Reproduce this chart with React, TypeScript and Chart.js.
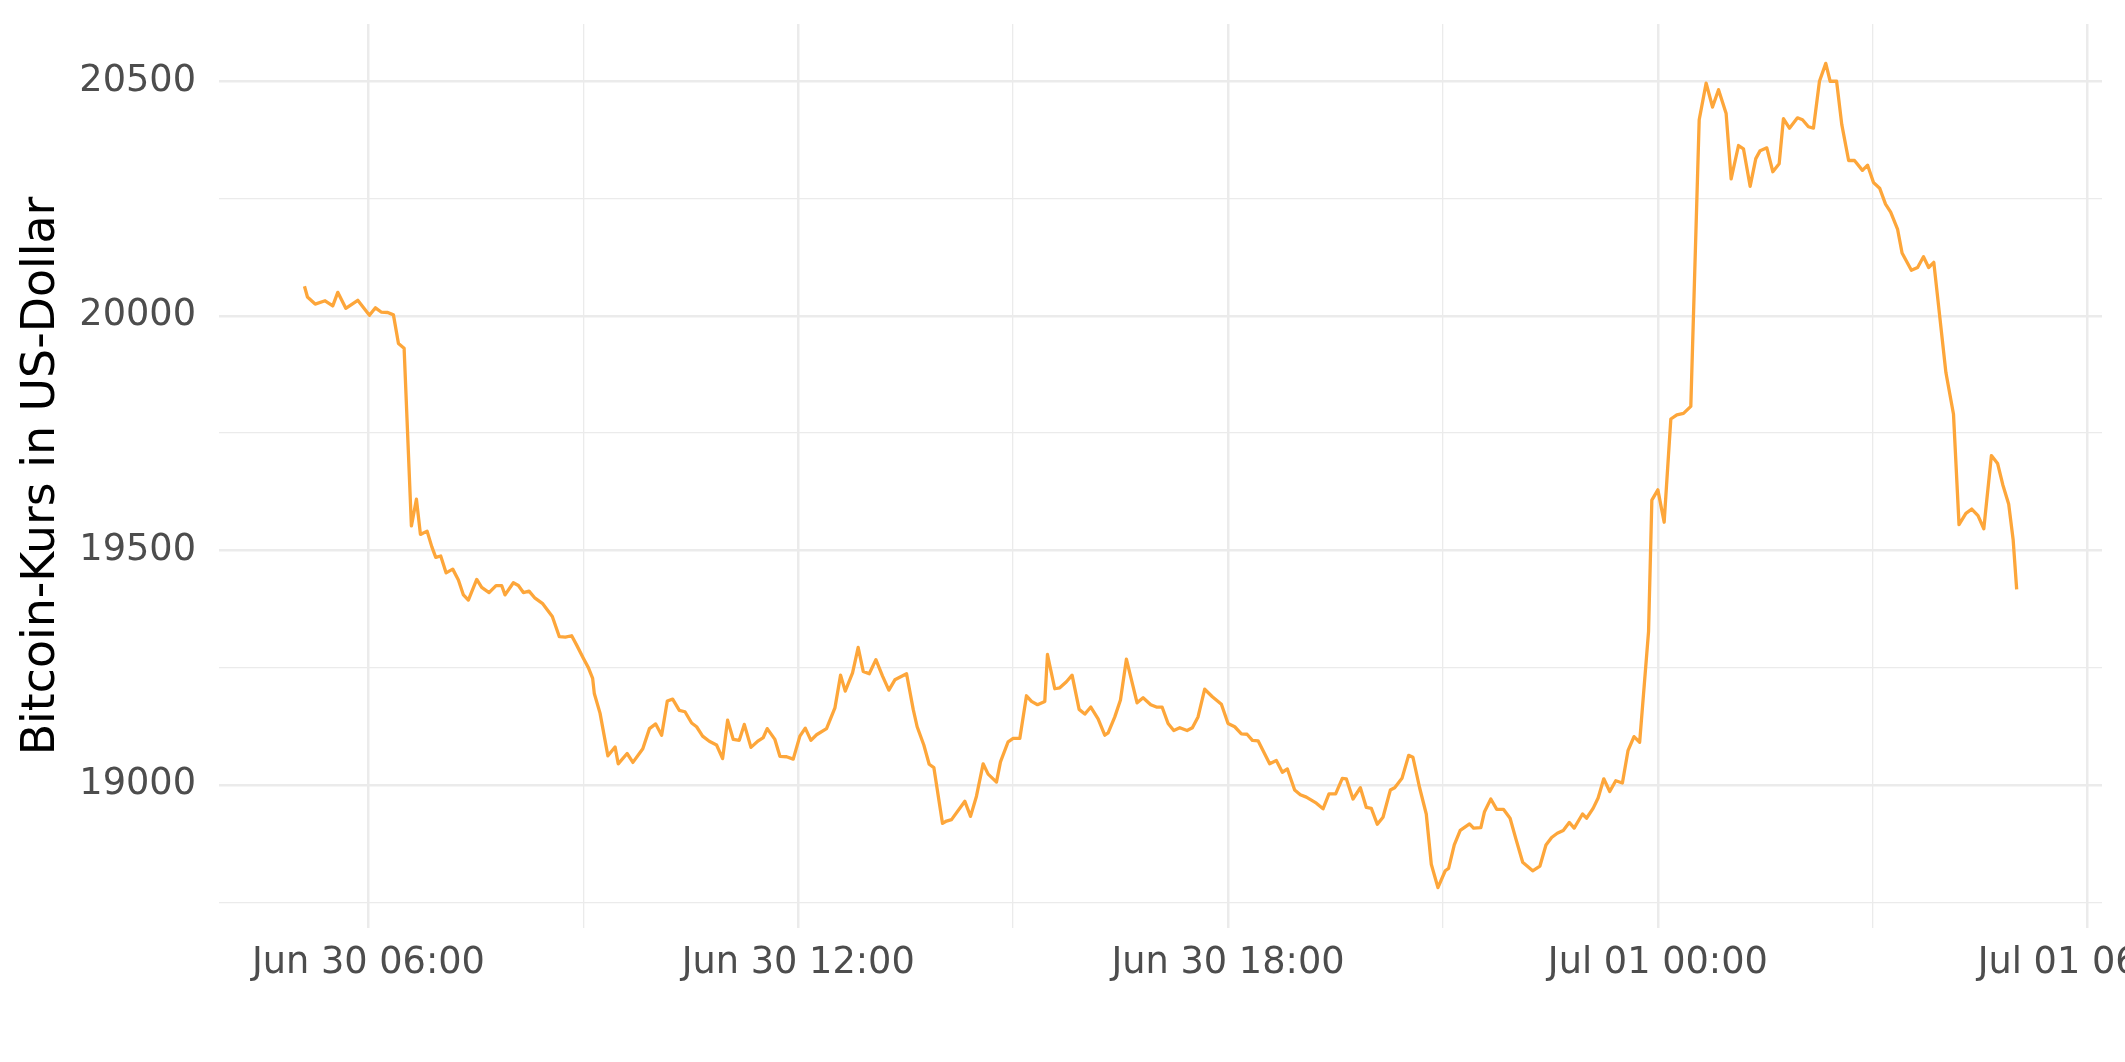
import { useEffect, useRef } from 'react';
import { Chart, registerables } from 'chart.js';

Chart.register(...registerables);

// Hours since Jun 30 00:00
const hours = [
  5.107, 5.149, 5.256, 5.395, 5.502, 5.572, 5.684, 5.851, 6.014, 6.098, 6.177, 6.27, 6.349, 6.419, 6.498,
  6.6, 6.67, 6.726, 6.819, 6.884, 6.94, 7.009, 7.084, 7.177, 7.256, 7.326, 7.395, 7.512, 7.581, 7.684,
  7.781, 7.86, 7.907, 8.023, 8.093, 8.163, 8.242, 8.326, 8.428, 8.488, 8.567, 8.665, 8.749, 8.837, 8.907,
  9.0, 9.07, 9.13, 9.153, 9.233, 9.343, 9.443, 9.487, 9.611, 9.692, 9.83, 9.923, 10.01, 10.093, 10.172,
  10.247, 10.34, 10.419, 10.512, 10.581, 10.665, 10.758, 10.86, 10.944, 11.014, 11.093, 11.177, 11.247, 11.34, 11.442,
  11.512, 11.567, 11.674, 11.744, 11.837, 11.93, 12.023, 12.098, 12.177, 12.256, 12.395, 12.512, 12.591, 12.656, 12.758,
  12.837, 12.907, 12.991, 13.084, 13.177, 13.265, 13.349, 13.512, 13.605, 13.66, 13.753, 13.828, 13.893, 14.014, 14.07,
  14.14, 14.326, 14.405, 14.488, 14.581, 14.651, 14.767, 14.823, 14.93, 15.0, 15.093, 15.186, 15.256, 15.34, 15.442,
  15.479, 15.581, 15.651, 15.744, 15.823, 15.921, 16.0, 16.084, 16.186, 16.279, 16.326, 16.419, 16.498, 16.581, 16.73,
  16.814, 16.921, 17.0, 17.079, 17.163, 17.242, 17.326, 17.428, 17.502, 17.581, 17.674, 17.781, 17.907, 18.0, 18.093,
  18.186, 18.265, 18.34, 18.419, 18.581, 18.674, 18.758, 18.828, 18.93, 19.009, 19.093, 19.233, 19.326, 19.409, 19.502,
  19.595, 19.651, 19.744, 19.847, 19.93, 20.0, 20.084, 20.163, 20.265, 20.326, 20.428, 20.521, 20.581, 20.674, 20.767,
  20.837, 20.93, 21.032, 21.079, 21.158, 21.241, 21.371, 21.427, 21.529, 21.58, 21.668, 21.751, 21.844, 21.937, 22.02,
  22.113, 22.252, 22.354, 22.438, 22.517, 22.596, 22.679, 22.763, 22.832, 22.948, 23.004, 23.096, 23.166, 23.245, 23.328,
  23.412, 23.505, 23.583, 23.667, 23.746, 23.87, 23.916, 24.0, 24.088, 24.181, 24.265, 24.358, 24.46, 24.577, 24.674,
  24.763, 24.847, 24.953, 25.023, 25.126, 25.195, 25.288, 25.367, 25.428, 25.521, 25.605, 25.693, 25.753, 25.837, 25.949,
  26.019, 26.102, 26.172, 26.256, 26.344, 26.405, 26.495, 26.567, 26.663, 26.745, 26.856, 26.928, 27.01, 27.096, 27.178,
  27.25, 27.347, 27.409, 27.539, 27.626, 27.708, 27.78, 27.852, 28.021, 28.127, 28.204, 28.3, 28.382, 28.469, 28.55,
  28.656, 28.743, 28.815, 28.897, 28.96, 29.009,
];

// Bitcoin price in US-Dollar
const prices = [
  20063, 20040, 20025, 20032, 20021, 20050, 20016, 20033, 20001, 20017, 20008, 20007, 20002, 19941, 19931,
  19552, 19609, 19534, 19541, 19508, 19485, 19488, 19452, 19460, 19437, 19405, 19394, 19438, 19421, 19410,
  19425, 19425, 19405, 19431, 19425, 19410, 19413, 19398, 19387, 19375, 19359, 19316, 19315, 19318, 19298,
  19270, 19250, 19227, 19195, 19153, 19062, 19081, 19045, 19067, 19048, 19077, 19120, 19130, 19106, 19179,
  19183, 19159, 19156, 19132, 19124, 19104, 19093, 19085, 19056, 19138, 19097, 19095, 19129, 19080, 19094,
  19101, 19120, 19097, 19061, 19060, 19055, 19104, 19121, 19095, 19107, 19120, 19164, 19234, 19200, 19239,
  19293, 19242, 19237, 19267, 19232, 19202, 19224, 19237, 19161, 19124, 19085, 19044, 19037, 18918, 18923,
  18926, 18965, 18933, 18976, 19045, 19023, 19006, 19049, 19092, 19099, 19099, 19190, 19178, 19171, 19178,
  19278, 19205, 19207, 19220, 19234, 19161, 19151, 19166, 19141, 19106, 19111, 19145, 19181, 19268, 19175,
  19186, 19171, 19166, 19166, 19131, 19116, 19122, 19116, 19122, 19145, 19204, 19188, 19172, 19131, 19124,
  19109, 19108, 19095, 19094, 19045, 19052, 19027, 19034, 18989, 18979, 18974, 18961, 18949, 18981, 18981,
  19014, 19013, 18970, 18994, 18952, 18950, 18916, 18931, 18989, 18994, 19014, 19063, 19059, 18994, 18938,
  18831, 18781, 18817, 18822, 18872, 18903, 18917, 18908, 18909, 18943, 18970, 18948, 18948, 18929, 18884,
  18835, 18817, 18827, 18872, 18888, 18897, 18903, 18920, 18908, 18938, 18929, 18950, 18972, 19013, 18986,
  19009, 19004, 19073, 19103, 19091, 19327, 19607, 19629, 19560, 19780, 19789, 19792, 19807, 20418, 20496,
  20445, 20482, 20431, 20292, 20363, 20356, 20276, 20335, 20352, 20358, 20307, 20324, 20420, 20400, 20422,
  20418, 20403, 20400, 20500, 20538, 20500, 20500, 20408, 20331, 20331, 20310, 20321, 20284, 20272, 20238,
  20221, 20184, 20134, 20097, 20103, 20126, 20103, 20114, 19879, 19790, 19555, 19579, 19588, 19574, 19546,
  19702, 19685, 19640, 19599, 19522, 19417,
];

const xMajorTicks = [6, 12, 18, 24, 30];
const xTickLabels = ['Jun 30 06:00', 'Jun 30 12:00', 'Jun 30 18:00', 'Jul 01 00:00', 'Jul 01 06:00'];
const xMinorTicks = [9, 15, 21, 27];
const yMajorTicks = [19000, 19500, 20000, 20500];
const yMinorTicks = [18750, 19250, 19750, 20250];
const yTitle = 'Bitcoin-Kurs in US-Dollar';

const FONT = 'DejaVu Sans';
const GRID = '#EBEBEB';

export default function App() {
  const ref = useRef<HTMLCanvasElement>(null);

  useEffect(() => {
    document.body.style.margin = '0';
    const canvas = ref.current;
    if (!canvas) return;
    const xAll = [...xMajorTicks, ...xMinorTicks].sort((a, b) => a - b);
    const yAll = [...yMajorTicks, ...yMinorTicks].sort((a, b) => a - b);

    const chart = new Chart(canvas, {
      type: 'line',
      data: {
        datasets: [
          {
            data: hours.map((h, i) => ({ x: h, y: prices[i] })),
            borderColor: '#FDA63A',
            borderWidth: 3.3,
            pointRadius: 0,
            tension: 0,
            fill: false,
            borderJoinStyle: 'round',
          },
        ],
      },
      options: {
        animation: false,
        responsive: false,
        devicePixelRatio: 1,
        layout: { padding: { left: 0, top: 24, right: 23, bottom: 0 } },
        plugins: { legend: { display: false }, tooltip: { enabled: false } },
        scales: {
          x: {
            type: 'linear',
            min: 3.914,
            max: 30.2,
            afterBuildTicks: (s: any) => {
              s.ticks = xAll.map((v) => ({ value: v }));
            },
            afterFit: (s: any) => {
              s.height = 134;
              s.paddingLeft = 0;
              s.paddingRight = 0;
            },
            border: { display: false },
            grid: {
              color: GRID,
              lineWidth: (c: any) => (xMajorTicks.includes(c.tick?.value) ? 2.5 : 1.3),
              drawTicks: false,
              tickLength: 0,
            },
            ticks: {
              autoSkip: false,
              maxRotation: 0,
              minRotation: 0,
              padding: 13,
              color: '#4D4D4D',
              font: { family: FONT, size: 36.7 },
              callback: (v: any) => {
                const i = xMajorTicks.indexOf(Number(v));
                return i >= 0 ? xTickLabels[i] : '';
              },
            },
          },
          y: {
            type: 'linear',
            min: 18695,
            max: 20622,
            afterBuildTicks: (s: any) => {
              s.ticks = yAll.map((v) => ({ value: v }));
            },
            afterFit: (s: any) => {
              s.width = 219;
              s.paddingTop = 0;
              s.paddingBottom = 0;
            },
            border: { display: false },
            grid: {
              color: GRID,
              lineWidth: (c: any) => (yMajorTicks.includes(c.tick?.value) ? 2.5 : 1.3),
              drawTicks: false,
              tickLength: 0,
            },
            ticks: {
              autoSkip: false,
              padding: 23,
              color: '#4D4D4D',
              font: { family: FONT, size: 36.7 },
              callback: (v: any) => (yMajorTicks.includes(Number(v)) ? String(v) : ''),
            },
            title: {
              display: true,
              text: yTitle,
              color: '#000000',
              font: { family: FONT, size: 45.8 },
              padding: { top: 14.7, bottom: 0 },
            },
          },
        },
      },
    } as any);

    return () => chart.destroy();
  }, []);

  return (
    <div style={{ position: 'absolute', left: 0, top: 0, width: 2125, height: 1062 }}>
      <canvas ref={ref} width={2125} height={1062} style={{ width: 2125, height: 1062, display: 'block' }} />
    </div>
  );
}
